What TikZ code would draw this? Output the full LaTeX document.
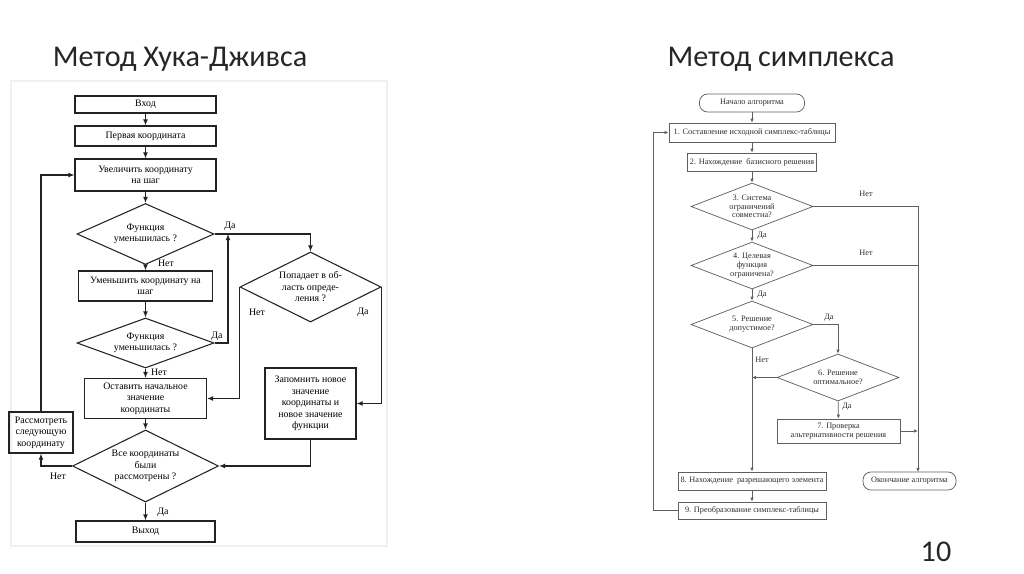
\documentclass[tikz,border=0pt]{standalone}
\usepackage{fontspec}
\setmainfont{Liberation Serif}
\newfontfamily\titlefont{Carlito}
\usetikzlibrary{shapes.geometric,arrows.meta}
\definecolor{lcol}{RGB}{35,35,35}
\definecolor{rcol}{RGB}{95,95,95}
\definecolor{rtext}{RGB}{45,45,45}
\newcommand\lsz{\fontsize{7.4}{8.6}\selectfont}
\newcommand\rsz{\fontsize{6.2}{6.6}\selectfont}
\newcommand\tsz{\titlefont\fontsize{22.6}{27}\selectfont}
\begin{document}
\begin{tikzpicture}[x=0.75pt,y=-0.75pt,
  wh/.style 2 args={minimum width=#1*0.75pt,minimum height=#2*0.75pt},
  lbox/.style={draw=lcol,line width=0.8pt,inner sep=1pt,align=center,font=\lsz,text=black},
  ldia/.style={draw=lcol,line width=0.8pt,diamond,inner sep=0pt},
  ldtext/.style={font=\lsz,align=center,inner sep=0pt},
  larr/.style={draw=lcol,line width=0.8pt,-{Latex[length=4.5pt,width=3.6pt]}},
  llab/.style={font=\lsz,inner sep=1pt},
  rbox/.style={draw=rcol,line width=0.55pt,inner sep=1pt,align=center,font=\rsz,text=rtext},
  rdia/.style={draw=rcol,line width=0.55pt,diamond,inner sep=0pt},
  rdtext/.style={font=\rsz,text=rtext,align=center,inner sep=0pt},
  rarr/.style={draw=rcol,line width=0.55pt,-{Latex[length=3pt,width=2.6pt]}},
  rlin/.style={draw=rcol,line width=0.55pt},
  rlab/.style={font=\rsz,text=rtext,inner sep=1pt},
  title/.style={font=\tsz,text=black!85,inner sep=0pt}
]
\useasboundingbox (0,0) rectangle (1024,574);

% titles
\node[title] (t1) at (180,59) {Метод Хука-Дживса};
\node[title] (t2) at (781,59) {Метод симплекса};
\node[title] (pg) at (936,552) {10};

% faint frame of the left picture
\draw[black!6,line width=0.8pt] (11,81) rectangle (387,546);

% ---------------- left diagram ----------------
\node[lbox,wh={141}{17}] (vhod) at (145.5,104.5) {Вход};
\node[lbox,wh={141}{20}] (perv) at (145.5,136) {Первая координата};
\node[lbox,wh={141}{32}] (uvel) at (145.5,175) {Увеличить координату\\на шаг};
\node[ldia,wh={137}{61},label={[ldtext]center:Функция\\уменьшилась ?}] (d1) at (145.5,234) {};
\node[lbox,wh={134}{30}] (umen) at (145.5,286) {Уменьшить координату на\\шаг};
\node[ldia,wh={137}{50},label={[ldtext]center:Функция\\уменьшилась ?}] (d2) at (145.5,343) {};
\node[lbox,wh={122}{40}] (ost) at (145.5,398.5) {Оставить начальное\\значение\\координаты};
\node[ldia,wh={141}{70},label={[ldtext]center:Попадает в об-\\ласть опреде-\\ления ?}] (d3) at (310.5,287) {};
\node[lbox,wh={91}{71}] (zap) at (310.5,403.5) {Запомнить новое\\значение\\координаты и\\новое значение\\функции};
\node[ldia,wh={146}{72},label={[ldtext]center:Все координаты\\были\\рассмотрены ?}] (d4) at (145.5,466) {};
\node[lbox,wh={64}{41}] (rass) at (41,432.5) {Рассмотреть\\следующую\\координату};
\node[lbox,wh={139}{21}] (vyh) at (145.5,531.5) {Выход};

\draw[larr] (vhod) -- (perv);
\draw[larr] (perv) -- (uvel);
\draw[larr] (uvel) -- (d1);
\draw[larr] (d1) -- (umen);
\draw[larr] (umen) -- (d2);
\draw[larr] (d2) -- (ost);
\draw[larr] (ost) -- (d4);
\draw[larr] (d4) -- (vyh);
\draw[larr] (d1.east) -| (d3.north);
\coordinate (j1) at (228,234);
\draw[larr] (d2.east) -| (j1);
\draw[larr] (d3.west) |- (ost.east);
\draw[larr] (d3.east) |- (zap.east);
\draw[larr] (zap.south) |- (d4.east);
\draw[larr] (d4.west) -| (rass.south);
\draw[larr] (rass.north) |- (uvel.west);

\node[llab] (la1) at (230,226) {Да};
\node[llab] (la2) at (166,263) {Нет};
\node[llab] (la3) at (217,336) {Да};
\node[llab] (la4) at (159,372) {Нет};
\node[llab] (la5) at (257,312) {Нет};
\node[llab] (la6) at (363,312) {Да};
\node[llab] (la7) at (58,476) {Нет};
\node[llab] (la8) at (163,512) {Да};

% ---------------- right diagram ----------------
\node[rbox,rounded corners=6pt,wh={105}{18}] (rs) at (752,103) {Начало алгоритма};
\node[rbox,wh={166}{19}] (r1) at (752,132.5) {1. Составление исходной симплекс-таблицы};
\node[rbox,wh={129}{18}] (r2) at (752,162) {2. Нахождение\ \ базисного решения};
\node[rdia,wh={122}{47},label={[rdtext]center:3. Система\\ограничений\\совместна?}] (rd3) at (752,206.5) {};
\node[rdia,wh={122}{47},label={[rdtext]center:4. Целевая\\функция\\ограничена?}] (rd4) at (752,265.5) {};
\node[rdia,wh={122}{47},label={[rdtext]center:5. Решение\\допустимое?}] (rd5) at (752,324.5) {};
\node[rdia,wh={122}{47},label={[rdtext]center:6. Решение\\оптимальное?}] (rd6) at (838,377.5) {};
\node[rbox,wh={123}{24}] (r7) at (838.5,431) {7. Проверка\\альтернативности решения};
\node[rbox,wh={148}{18}] (r8) at (752,481) {8. Нахождение\ \ разрешающего элемента};
\node[rbox,wh={148}{17}] (r9) at (752,510.5) {9. Преобразование симплекс-таблицы};
\node[rbox,rounded corners=6pt,wh={93}{18}] (rend) at (909.5,481) {Окончание алгоритма};

\coordinate (rx) at (918,472);
\coordinate (lx) at (653,510.5);

\draw[rarr] (rs) -- (r1);
\draw[rarr] (r1) -- (r2);
\draw[rarr] (r2) -- (rd3);
\draw[rarr] (rd3) -- (rd4);
\draw[rarr] (rd4) -- (rd5);
\draw[rarr] (rd5.south) -- (r8.north);
\draw[rarr] (r8) -- (r9);
\draw[rarr] (rd3.east) -| (rx);
\draw[rlin] (rd4.east) -- (rd4.east -| rx);
\draw[rarr] (rd5.east) -| (rd6.north);
\draw[rarr] (rd6.west) -- (rd6.west -| rd5.south);
\draw[rarr] (rd6) -- (r7);
\draw[rarr] (r7.east) -- (r7.east -| rx);
\draw[rarr] (r9.west) -- (lx) |- (r1.west);

\node[rlab] (ra1) at (866,194) {Нет};
\node[rlab] (ra2) at (762,236) {Да};
\node[rlab] (ra3) at (866,253) {Нет};
\node[rlab] (ra4) at (762,295) {Да};
\node[rlab] (ra5) at (829,318) {Да};
\node[rlab] (ra6) at (762,360) {Нет};
\node[rlab] (ra7) at (847,407) {Да};
\end{tikzpicture}
\end{document}
